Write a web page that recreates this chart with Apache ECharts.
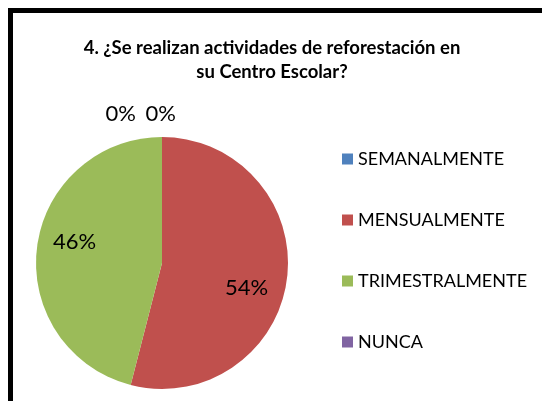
<!DOCTYPE html>
<html>
<head>
<meta charset="utf-8">
<script src="https://cdn.jsdelivr.net/npm/echarts@6/dist/echarts.min.js"></script>
<style>
html,body{margin:0;padding:0;background:#fff;overflow:hidden;}
#chart{position:absolute;left:0;top:0;width:542px;height:401px;}
#frame{position:absolute;left:8px;top:8px;width:700px;height:600px;border-top:5px solid #000;border-left:5px solid #000;pointer-events:none;}
</style>
</head>
<body>
<div id="chart"></div>
<div id="frame"></div>
<script>
var titleText = '4. ¿Se realizan actividades de reforestación en\nsu Centro Escolar?';
var categories = ['SEMANALMENTE', 'MENSUALMENTE', 'TRIMESTRALMENTE', 'NUNCA'];
var values = [0, 54, 46, 0];
var colors = ['#4F81BD', '#C0504D', '#9BBB59', '#8064A2'];

var FONT = 'Lato';
var data = categories.map(function (c, i) {
  var item = { name: c, value: values[i], itemStyle: { color: colors[i] } };
  if (values[i] === 0) {
    item.label = { position: 'outside' };
    item.labelLine = { show: false };
  }
  return item;
});

var chart = echarts.init(document.getElementById('chart'), null, { renderer: 'canvas' });
chart.setOption({
  animation: false,
  title: {
    text: titleText,
    left: 267, top: 31, textAlign: 'center',
    textStyle: { fontFamily: FONT, fontWeight: 'bold', fontSize: 18.5, lineHeight: 24, color: '#000' }
  },
  legend: {
    orient: 'vertical', left: 337, top: 145,
    icon: 'rect', itemWidth: 11, itemHeight: 11, itemGap: 43,
    data: categories,
    textStyle: { fontFamily: FONT, fontSize: 18, lineHeight: 18, color: '#000' }
  },
  series: [{
    type: 'pie',
    center: [162, 263],
    radius: 126,
    startAngle: 90,
    clockwise: true,
    avoidLabelOverlap: false,
    data: data,
    label: {
      show: true, position: 'inside', formatter: '{d}%',
      fontFamily: FONT, fontSize: 22, color: '#000'
    },
    labelLayout: function (p) {
      if (p.dataIndex === 1) return { dx: 19, dy: 17 };
      if (p.dataIndex === 2) return { dx: -22, dy: -13 };
      if (p.dataIndex === 0) return { dx: 49, dy: -8 };
      if (p.dataIndex === 3) return { dx: 9, dy: -8 };
      return {};
    },
    emphasis: { disabled: true }
  }]
});
</script>
</body>
</html>
